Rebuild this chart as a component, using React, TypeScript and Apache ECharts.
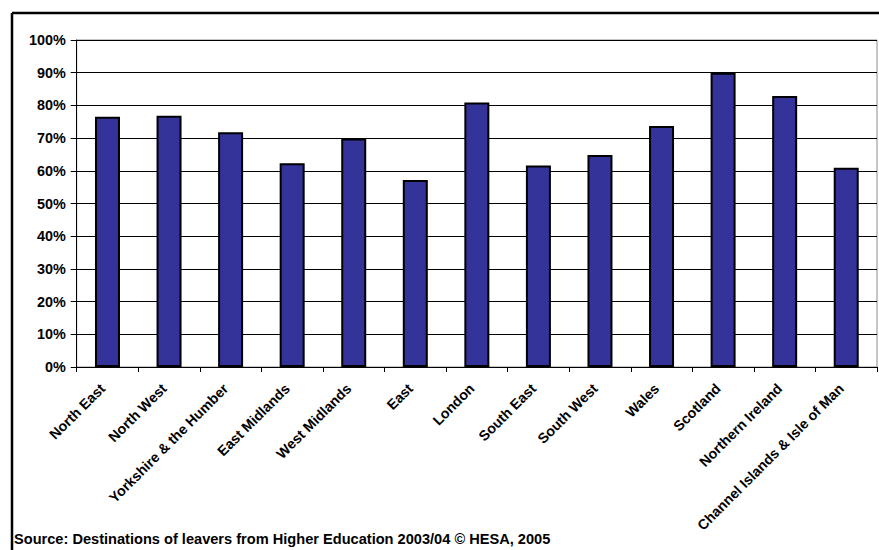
import React, { useEffect, useRef } from "react";
import * as echarts from "echarts";

const regions = [
  "North East",
  "North West",
  "Yorkshire & the Humber",
  "East Midlands",
  "West Midlands",
  "East",
  "London",
  "South East",
  "South West",
  "Wales",
  "Scotland",
  "Northern Ireland",
  "Channel Islands & Isle of Man",
];
const shares = [76.5, 76.8, 71.8, 62.3, 69.9, 57.2, 80.9, 61.6, 64.8, 73.7, 90.0, 82.9, 60.9];
const sourceText = "Source: Destinations of leavers from Higher Education 2003/04 © HESA, 2005";

const FONT = "'Liberation Sans', Arial, Helvetica, sans-serif";

export default function App() {
  const ref = useRef<HTMLDivElement>(null);
  useEffect(() => {
    document.body.style.margin = "0";
    const chart = echarts.init(ref.current!, undefined, { renderer: "svg" });
    chart.setOption({
      animation: false,
      backgroundColor: "#ffffff",
      grid: {
        left: 76.7,
        right: 2,
        top: 40,
        bottom: 183,
        show: true,
        borderColor: "#8c8c8c",
        borderWidth: 1,
        backgroundColor: "transparent",
      },
      xAxis: {
        type: "category",
        data: regions,
        axisLine: { show: true, lineStyle: { color: "#000", width: 1 } },
        axisTick: { show: true, alignWithLabel: false, length: 5, lineStyle: { color: "#000" } },
        axisLabel: {
          interval: 0,
          rotate: 45,
          margin: 24,
          verticalAlign: "bottom",
          color: "#000",
          fontFamily: FONT,
          fontWeight: "bold",
          fontSize: 14.2,
        },
      },
      yAxis: {
        type: "value",
        min: 0,
        max: 100,
        interval: 10,
        axisLine: { show: true, lineStyle: { color: "#000", width: 1 } },
        axisTick: { show: true, length: 6, lineStyle: { color: "#000" } },
        splitLine: { show: true, lineStyle: { color: "#000", width: 1 } },
        axisLabel: {
          margin: 11,
          color: "#000",
          fontFamily: FONT,
          fontWeight: "bold",
          fontSize: 14.4,
          formatter: (v: number) => `${v}%`,
        },
      },
      series: [
        {
          type: "bar",
          data: shares,
          barWidth: 25,
          itemStyle: { color: "#333399", borderColor: "#000", borderWidth: 2 },
        },
      ],
      graphic: [
        {
          type: "line",
          shape: { x1: 12, y1: 13, x2: 879, y2: 13 },
          style: { stroke: "#000", lineWidth: 2.5 },
          silent: true,
        },
        {
          type: "line",
          shape: { x1: 12, y1: 13, x2: 12, y2: 550 },
          style: { stroke: "#000", lineWidth: 2.5 },
          silent: true,
        },
        {
          type: "text",
          left: 14,
          top: 531,
          style: {
            text: sourceText,
            fill: "#000",
            font: `bold 14.6px ${FONT}`,
          },
        },
      ],
    });
    return () => chart.dispose();
  }, []);
  return <div ref={ref} style={{ width: 879, height: 550 }} />;
}
